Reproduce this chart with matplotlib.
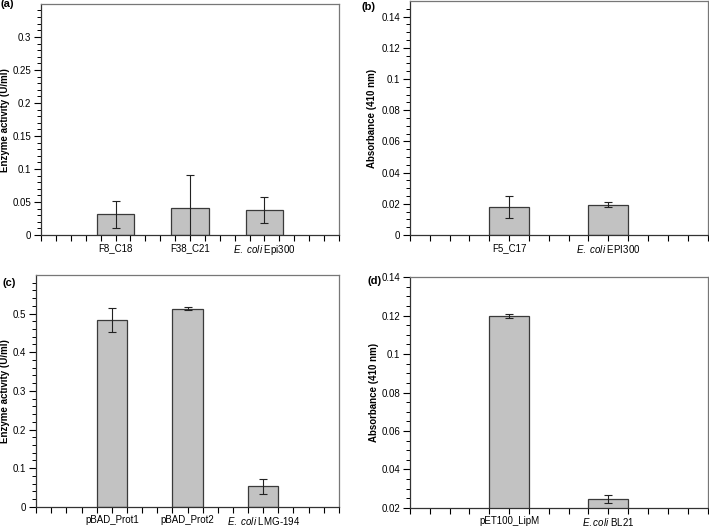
import numpy as np
import matplotlib.pyplot as plt
from matplotlib.ticker import MultipleLocator

plt.rcParams["font.family"] = ["Liberation Sans", "DejaVu Sans"]
plt.rcParams["mathtext.fontset"] = "custom"
plt.rcParams["mathtext.rm"] = "Liberation Sans"
plt.rcParams["mathtext.it"] = "Liberation Sans:italic"

# (a) enzyme activity, fosmid clones
a_labels = ["F8_C18", "F38_C21", r"$\it{E.}$ $\it{coli}$ Epi300"]
a_values = [0.031, 0.041, 0.038]
a_errors = [0.020, 0.050, 0.020]

# (b) absorbance, fosmid clones
b_labels = ["F5_C17", r"$\it{E.}$ $\it{coli}$ EPI300"]
b_values = [0.0178, 0.0195]
b_errors = [0.0070, 0.0018]

# (c) enzyme activity, subclones
c_labels = ["pBAD_Prot1", "pBAD_Prot2", r"$\it{E.}$ $\it{coli}$ LMG-194"]
c_values = [0.484, 0.513, 0.053]
c_errors = [0.031, 0.005, 0.020]

# (d) absorbance, subclones
d_labels = ["pET100_LipM", r"$\it{E.coli}$ BL21"]
d_values = [0.1197, 0.0248]
d_errors = [0.0010, 0.0021]

BAR_COLOR = "#c2c2c2"
EDGE_COLOR = "#3a3a3a"
SPINE_COLOR = "#777777"


def draw_panel(ax, labels, values, errors, xmax, width, ylim, major, minor,
               ylabel, label_x, bottom=0):
    x = np.arange(1, len(labels) + 1) * 5
    heights = np.array(values) - bottom
    ax.bar(x, heights, width=width, bottom=bottom, color=BAR_COLOR,
           edgecolor=EDGE_COLOR, linewidth=0.9, zorder=2)
    ax.errorbar(x, values, yerr=errors, fmt="none", ecolor="#222222",
                elinewidth=0.8, capsize=3, capthick=0.8, zorder=3)

    ax.set_xlim(0, xmax)
    ax.set_ylim(*ylim)
    ax.set_xticks(x)
    ax.set_xticklabels(labels)
    ax.xaxis.set_minor_locator(MultipleLocator(1))
    ax.yaxis.set_major_locator(MultipleLocator(major))
    ax.yaxis.set_minor_locator(MultipleLocator(minor))
    ax.yaxis.set_major_formatter(plt.FuncFormatter(lambda v, p: f"{v:g}"))

    ax.tick_params(axis="y", which="major", length=5, width=0.8, labelsize=7,
                   direction="out", pad=2)
    ax.tick_params(axis="y", which="minor", length=3, width=0.7, direction="out")
    ax.tick_params(axis="x", which="both", length=4, width=0.8, labelsize=7,
                   direction="out", pad=2)

    for side in ("top", "right"):
        ax.spines[side].set_color(SPINE_COLOR)
        ax.spines[side].set_linewidth(0.9)
    for side in ("left", "bottom"):
        ax.spines[side].set_color("#333333")
        ax.spines[side].set_linewidth(0.9)

    # label_x is the right edge of the rotated label, in axes units
    ax.set_ylabel(ylabel, fontsize=7, fontweight="bold")
    ax.yaxis.set_label_coords(label_x, 0.5)


fig = plt.figure(figsize=(7.09, 5.28), dpi=100)

ax_a = fig.add_axes([0.058, 0.555, 0.420, 0.437])
ax_b = fig.add_axes([0.578, 0.555, 0.420, 0.443])
ax_c = fig.add_axes([0.051, 0.040, 0.427, 0.439])
ax_d = fig.add_axes([0.578, 0.038, 0.420, 0.437])

draw_panel(ax_a, a_labels, a_values, a_errors, 20, 2.5, (0, 0.3495), 0.05, 0.01,
           "Enzyme activity (U/ml)", -0.104)
draw_panel(ax_b, b_labels, b_values, b_errors, 15, 2.0, (0, 0.1499), 0.02, 0.005,
           "Absorbance (410 nm)", -0.111)
draw_panel(ax_c, c_labels, c_values, c_errors, 20, 2.0, (0, 0.5995), 0.1, 0.02,
           "Enzyme activity (U/ml)", -0.085)
draw_panel(ax_d, d_labels, d_values, d_errors, 15, 2.0, (0.02, 0.14), 0.02, 0.005,
           "Absorbance (410 nm)", -0.104)

fig.text(0.001, 0.992, "(a)", fontsize=8, fontweight="bold", va="center", ha="left")
fig.text(0.510, 0.986, "(b)", fontsize=8, fontweight="bold", va="center", ha="left")
fig.text(0.003, 0.464, "(c)", fontsize=8, fontweight="bold", va="center", ha="left")
fig.text(0.519, 0.468, "(d)", fontsize=8, fontweight="bold", va="center", ha="left")

fig.savefig("out.png", dpi=100)
